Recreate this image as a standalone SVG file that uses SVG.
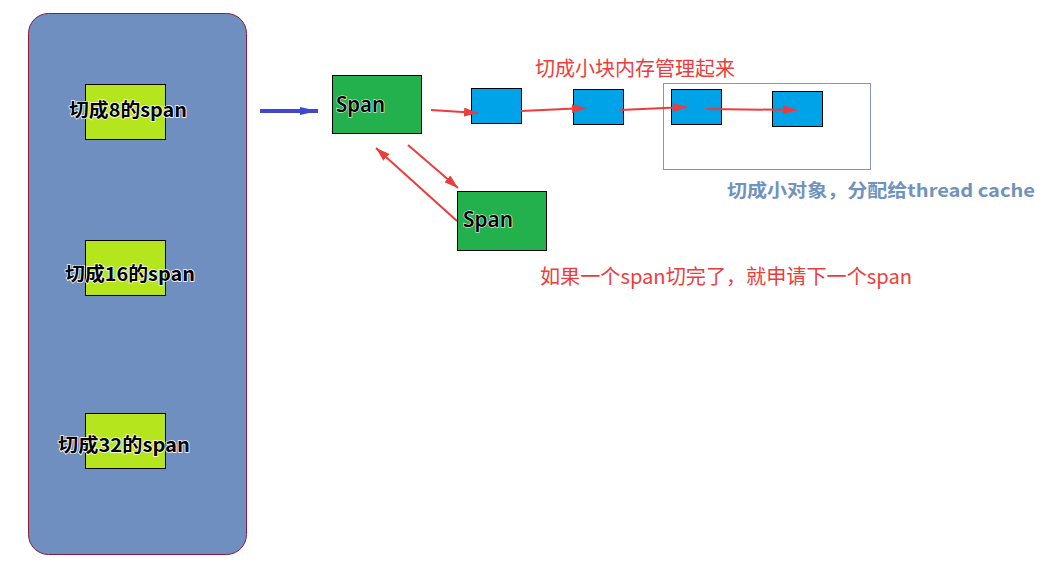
<svg xmlns="http://www.w3.org/2000/svg" width="1050" height="578" viewBox="0 0 1050 578">
<style>
.lbl{font-family:"Noto Sans CJK SC","Noto Sans",sans-serif;font-weight:bold;font-size:19px;fill:#000;stroke:#fff;stroke-width:1.5;paint-order:stroke;dominant-baseline:central}
.span{font-family:"Noto Sans","Noto Sans CJK SC",sans-serif;font-weight:600;font-size:21px;fill:#000;stroke:#fff;stroke-width:1.2;paint-order:stroke;dominant-baseline:central}
.red{font-family:"Noto Sans CJK SC",sans-serif;font-size:20px;fill:#EE3B3B;dominant-baseline:central}
.blue{font-family:"Noto Sans CJK SC",sans-serif;font-weight:bold;font-size:18px;fill:#7092BE;dominant-baseline:central}
.yg{fill:#B5E61D;stroke:#000;stroke-width:1}
.gr{fill:#22B14C;stroke:#000;stroke-width:1}
.bl{fill:#00A2E8;stroke:#000;stroke-width:1}
.ra{stroke:#EE3B3B;stroke-width:2;fill:none;marker-end:url(#rh)}
</style>
<defs>
<marker id="rh" viewBox="0 0 14 9" refX="14" refY="4.5" markerWidth="14" markerHeight="9" markerUnits="userSpaceOnUse" orient="auto">
<path d="M0,0 L14,4.5 L0,9 Z" fill="#EE3B3B"/>
</marker>
<marker id="bh" viewBox="0 0 18 8" refX="18" refY="4" markerWidth="18" markerHeight="8" markerUnits="userSpaceOnUse" orient="auto">
<path d="M0,0 L18,4 L0,8 Z" fill="#3F48CC"/>
</marker>
</defs>
<rect width="1050" height="578" fill="#fff"/>
<g id="central-list">
<rect x="28.5" y="13.5" width="218" height="541" rx="20" fill="#6E8FBF" stroke="#8B1A3A" stroke-width="1"/>
</g>
<g id="span8">
<rect class="yg" x="85.5" y="84.5" width="80" height="55"/>
<text class="lbl" x="128" y="108" text-anchor="middle" textLength="118" lengthAdjust="spacingAndGlyphs">切成8的span</text>
</g>
<g id="span16">
<rect class="yg" x="85.5" y="240.5" width="80" height="55"/>
<text class="lbl" x="130" y="272" text-anchor="middle" textLength="130" lengthAdjust="spacingAndGlyphs">切成16的span</text>
</g>
<g id="span32">
<rect class="yg" x="85.5" y="413.5" width="80" height="55"/>
<text class="lbl" x="124" y="443" text-anchor="middle" textLength="132" lengthAdjust="spacingAndGlyphs">切成32的span</text>
</g>
<g id="span-main">
<rect class="gr" x="332.5" y="75.5" width="89" height="58"/>
<text class="span" x="336" y="104" textLength="49" lengthAdjust="spacingAndGlyphs">Span</text>
</g>
<g id="span-next">
<rect class="gr" x="457.5" y="191.5" width="89" height="59"/>
<text class="span" x="463" y="219" textLength="50" lengthAdjust="spacingAndGlyphs">Span</text>
</g>
<g id="block1"><rect class="bl" x="471.5" y="88.5" width="50" height="35"/></g>
<g id="block2"><rect class="bl" x="573.5" y="89.5" width="50" height="35"/></g>
<g id="block3"><rect class="bl" x="671.5" y="89.5" width="50" height="35"/></g>
<g id="block4"><rect class="bl" x="772.5" y="91.5" width="50" height="35"/></g>
<g id="thread-cache-box">
<rect x="663.5" y="83.5" width="207" height="86" fill="none" stroke="#8496B0" stroke-width="1"/>
</g>
<g id="labels">
<text class="red" x="535" y="67" textLength="200" lengthAdjust="spacingAndGlyphs">切成小块内存管理起来</text>
<text class="blue" x="727" y="189" textLength="308" lengthAdjust="spacingAndGlyphs">切成小对象，分配给thread cache</text>
<text class="red" x="540" y="275" textLength="372" lengthAdjust="spacingAndGlyphs">如果一个span切完了，就申请下一个span</text>
</g>
<g id="connectors">
<line x1="260" y1="111" x2="318" y2="111" stroke="#3F48CC" stroke-width="4" marker-end="url(#bh)"/>
<line class="ra" x1="431" y1="110" x2="478" y2="113"/>
<line class="ra" x1="521" y1="111" x2="586" y2="108"/>
<line class="ra" x1="620" y1="110" x2="687" y2="107"/>
<line class="ra" x1="706" y1="109" x2="797" y2="110"/>
<line class="ra" x1="408" y1="145" x2="458" y2="188"/>
<line class="ra" x1="457" y1="221" x2="376" y2="148"/>
</g>
</svg>
